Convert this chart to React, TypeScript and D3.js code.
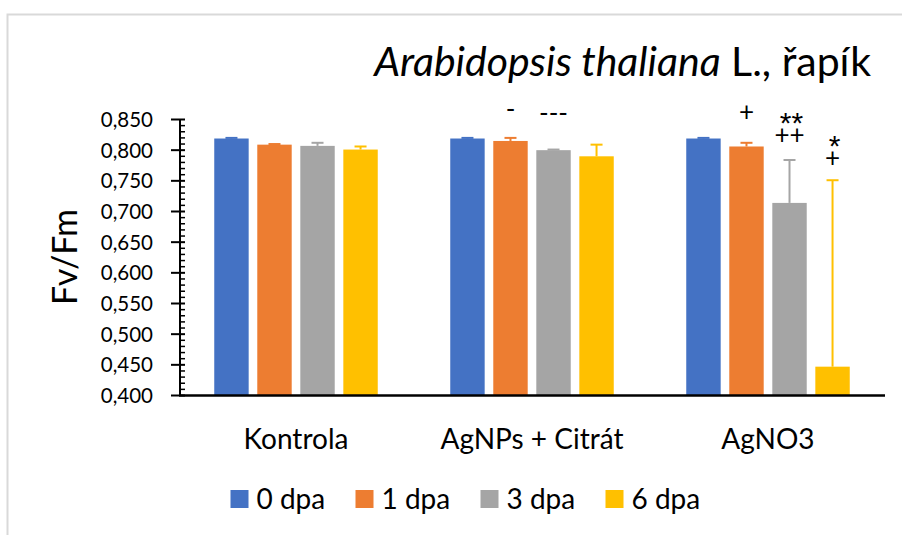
import React from "react";
import * as d3 from "d3";

const groups = ["Kontrola", "AgNPs + Citrát", "AgNO3"];
const seriesNames = ["0 dpa", "1 dpa", "3 dpa", "6 dpa"];
const seriesColors = ["#4472C4", "#ED7D31", "#A5A5A5", "#FFC000"];

const dpa0 = [0.819, 0.819, 0.819];
const dpa1 = [0.809, 0.815, 0.806];
const dpa3 = [0.807, 0.8, 0.714];
const dpa6 = [0.801, 0.79, 0.447];
const err0 = [0.001, 0.001, 0.001];
const err1 = [0.001, 0.005, 0.006];
const err3 = [0.005, 0.001, 0.07];
const err6 = [0.005, 0.019, 0.304];

const yTickValues = [0.4, 0.45, 0.5, 0.55, 0.6, 0.65, 0.7, 0.75, 0.8, 0.85];

const annotGroup = [1, 1, 2, 2, 2, 2, 2];
const annotSeries = [1, 2, 1, 2, 2, 3, 3];
const annotText = ["-", "---", "+", "**", "++", "*", "+"];
const annotLevel = [0.8635, 0.857, 0.862, 0.857, 0.824, 0.82, 0.787];

const values = [dpa0, dpa1, dpa3, dpa6];
const errors = [err0, err1, err3, err6];

const FONT = "Lato, 'Open Sans', sans-serif";
const STAR_FONT = "'Liberation Sans', Arial, sans-serif";

export default function App() {
  const W = 902;
  const H = 535;
  const x0 = 180;
  const yTop = 119.5;
  const yBot = 395.5;

  const y = d3.scaleLinear().domain([0.4, 0.85]).range([yBot, yTop]);
  const xg = d3.scaleBand<string>().domain(groups).range([178, 886]).padding(0);
  const inner = d3
    .scaleBand<string>()
    .domain(seriesNames)
    .range([-81.75, 81.75])
    .paddingInner(0.2)
    .paddingOuter(0);

  const fmt = (v: number) => d3.format(".3f")(v).replace(".", ",");
  const minorTicks = d3.range(0.4, 0.8501, 0.01).filter(
    (v) => Math.abs(Math.round(v * 20) - v * 20) > 1e-6
  );

  const barX = (gi: number, si: number) =>
    (xg(groups[gi]) as number) + xg.bandwidth() / 2 + (inner(seriesNames[si]) as number);

  const annotKeys = Array.from(new Set(annotText.map((_, i) => `${annotGroup[i]}-${annotSeries[i]}`)));

  return (
    <div style={{ position: "absolute", left: 0, top: 0 }}>
      <svg width={W} height={H} style={{ display: "block", background: "#fff" }}>
        <rect x={7.5} y={14.5} width={1000} height={1000} fill="#fff" stroke="#d9d9d9" strokeWidth={2} />

        {/* title */}
        <text x={871} y={76} textAnchor="end" fontFamily={FONT} fontSize={41} fill="#000">
          <tspan fontStyle="italic">Arabidopsis thaliana</tspan>
          <tspan> L., řapík</tspan>
        </text>

        {/* y axis title */}
        <text
          transform={`translate(77, 257) rotate(-90)`}
          textAnchor="middle"
          fontFamily={FONT}
          fontSize={34}
          fill="#000"
        >
          Fv/Fm
        </text>

        {/* bars */}
        {values.map((vals, si) =>
          vals.map((v, gi) => {
            const bx = barX(gi, si);
            return (
              <rect
                key={`b${si}-${gi}`}
                x={bx}
                y={y(v)}
                width={inner.bandwidth()}
                height={yBot - y(v)}
                fill={seriesColors[si]}
              />
            );
          })
        )}

        {/* error bars */}
        {values.map((vals, si) =>
          vals.map((v, gi) => {
            const cx = barX(gi, si) + inner.bandwidth() / 2;
            const ytop = y(v + errors[si][gi]);
            return (
              <g key={`e${si}-${gi}`} stroke={seriesColors[si]} strokeWidth={2}>
                <line x1={cx} x2={cx} y1={y(v)} y2={ytop} />
                <line x1={cx - 6} x2={cx + 6} y1={ytop} y2={ytop} />
              </g>
            );
          })
        )}

        {/* annotations */}
        {annotKeys.map((k) => {
          const idx = annotText.map((_, i) => i).filter((i) => `${annotGroup[i]}-${annotSeries[i]}` === k);
          return (
            <text key={`a${k}`} textAnchor="middle" fill="#000" fontFamily={FONT}>
              {idx.map((i) => {
                const t = annotText[i];
                const cx = barX(annotGroup[i], annotSeries[i]) + inner.bandwidth() / 2;
                const isStar = t[0] === "*";
                const fs = isStar ? 30 : 26;
                const centerEm = t[0] === "-" ? 0.26 : t[0] === "+" ? 0.34 : 0.6;
                return (
                  <tspan
                    key={i}
                    x={cx + (isStar ? 2 : 0)}
                    y={y(annotLevel[i]) + centerEm * fs}
                    fontFamily={isStar ? STAR_FONT : FONT}
                    fontSize={fs}
                  >
                    {t}
                  </tspan>
                );
              })}
            </text>
          );
        })}

        {/* y axis */}
        <line x1={x0} x2={x0} y1={yTop} y2={yBot} stroke="#000" strokeWidth={2} />
        {yTickValues.map((v) => (
          <g key={`t${v}`}>
            <line x1={x0 - 9} x2={x0 + 5} y1={y(v)} y2={y(v)} stroke="#000" strokeWidth={2} />
            <text
              x={153}
              y={y(v) + 7.5}
              textAnchor="end"
              fontFamily={FONT}
              fontSize={20.5}
              fill="#000"
            >
              {fmt(v)}
            </text>
          </g>
        ))}
        {minorTicks.map((v) => (
          <line key={`m${v}`} x1={x0} x2={x0 + 5} y1={y(v)} y2={y(v)} stroke="#000" strokeWidth={1.5} />
        ))}

        {/* x axis */}
        <line x1={x0 - 1} x2={885} y1={yBot} y2={yBot} stroke="#000" strokeWidth={2.5} />
        {groups.map((g) => (
          <text
            key={g}
            x={(xg(g) as number) + xg.bandwidth() / 2}
            y={449}
            textAnchor="middle"
            fontFamily={FONT}
            fontSize={28}
            fill="#000"
          >
            {g}
          </text>
        ))}

        {/* legend */}
        {seriesNames.map((s, i) => {
          const lx = 230.5 + i * 125;
          return (
            <g key={s}>
              <rect x={lx} y={490} width={18} height={18} fill={seriesColors[i]} />
              <text x={lx + 26} y={509} fontFamily={FONT} fontSize={28} fill="#000">
                {s}
              </text>
            </g>
          );
        })}
      </svg>
    </div>
  );
}
